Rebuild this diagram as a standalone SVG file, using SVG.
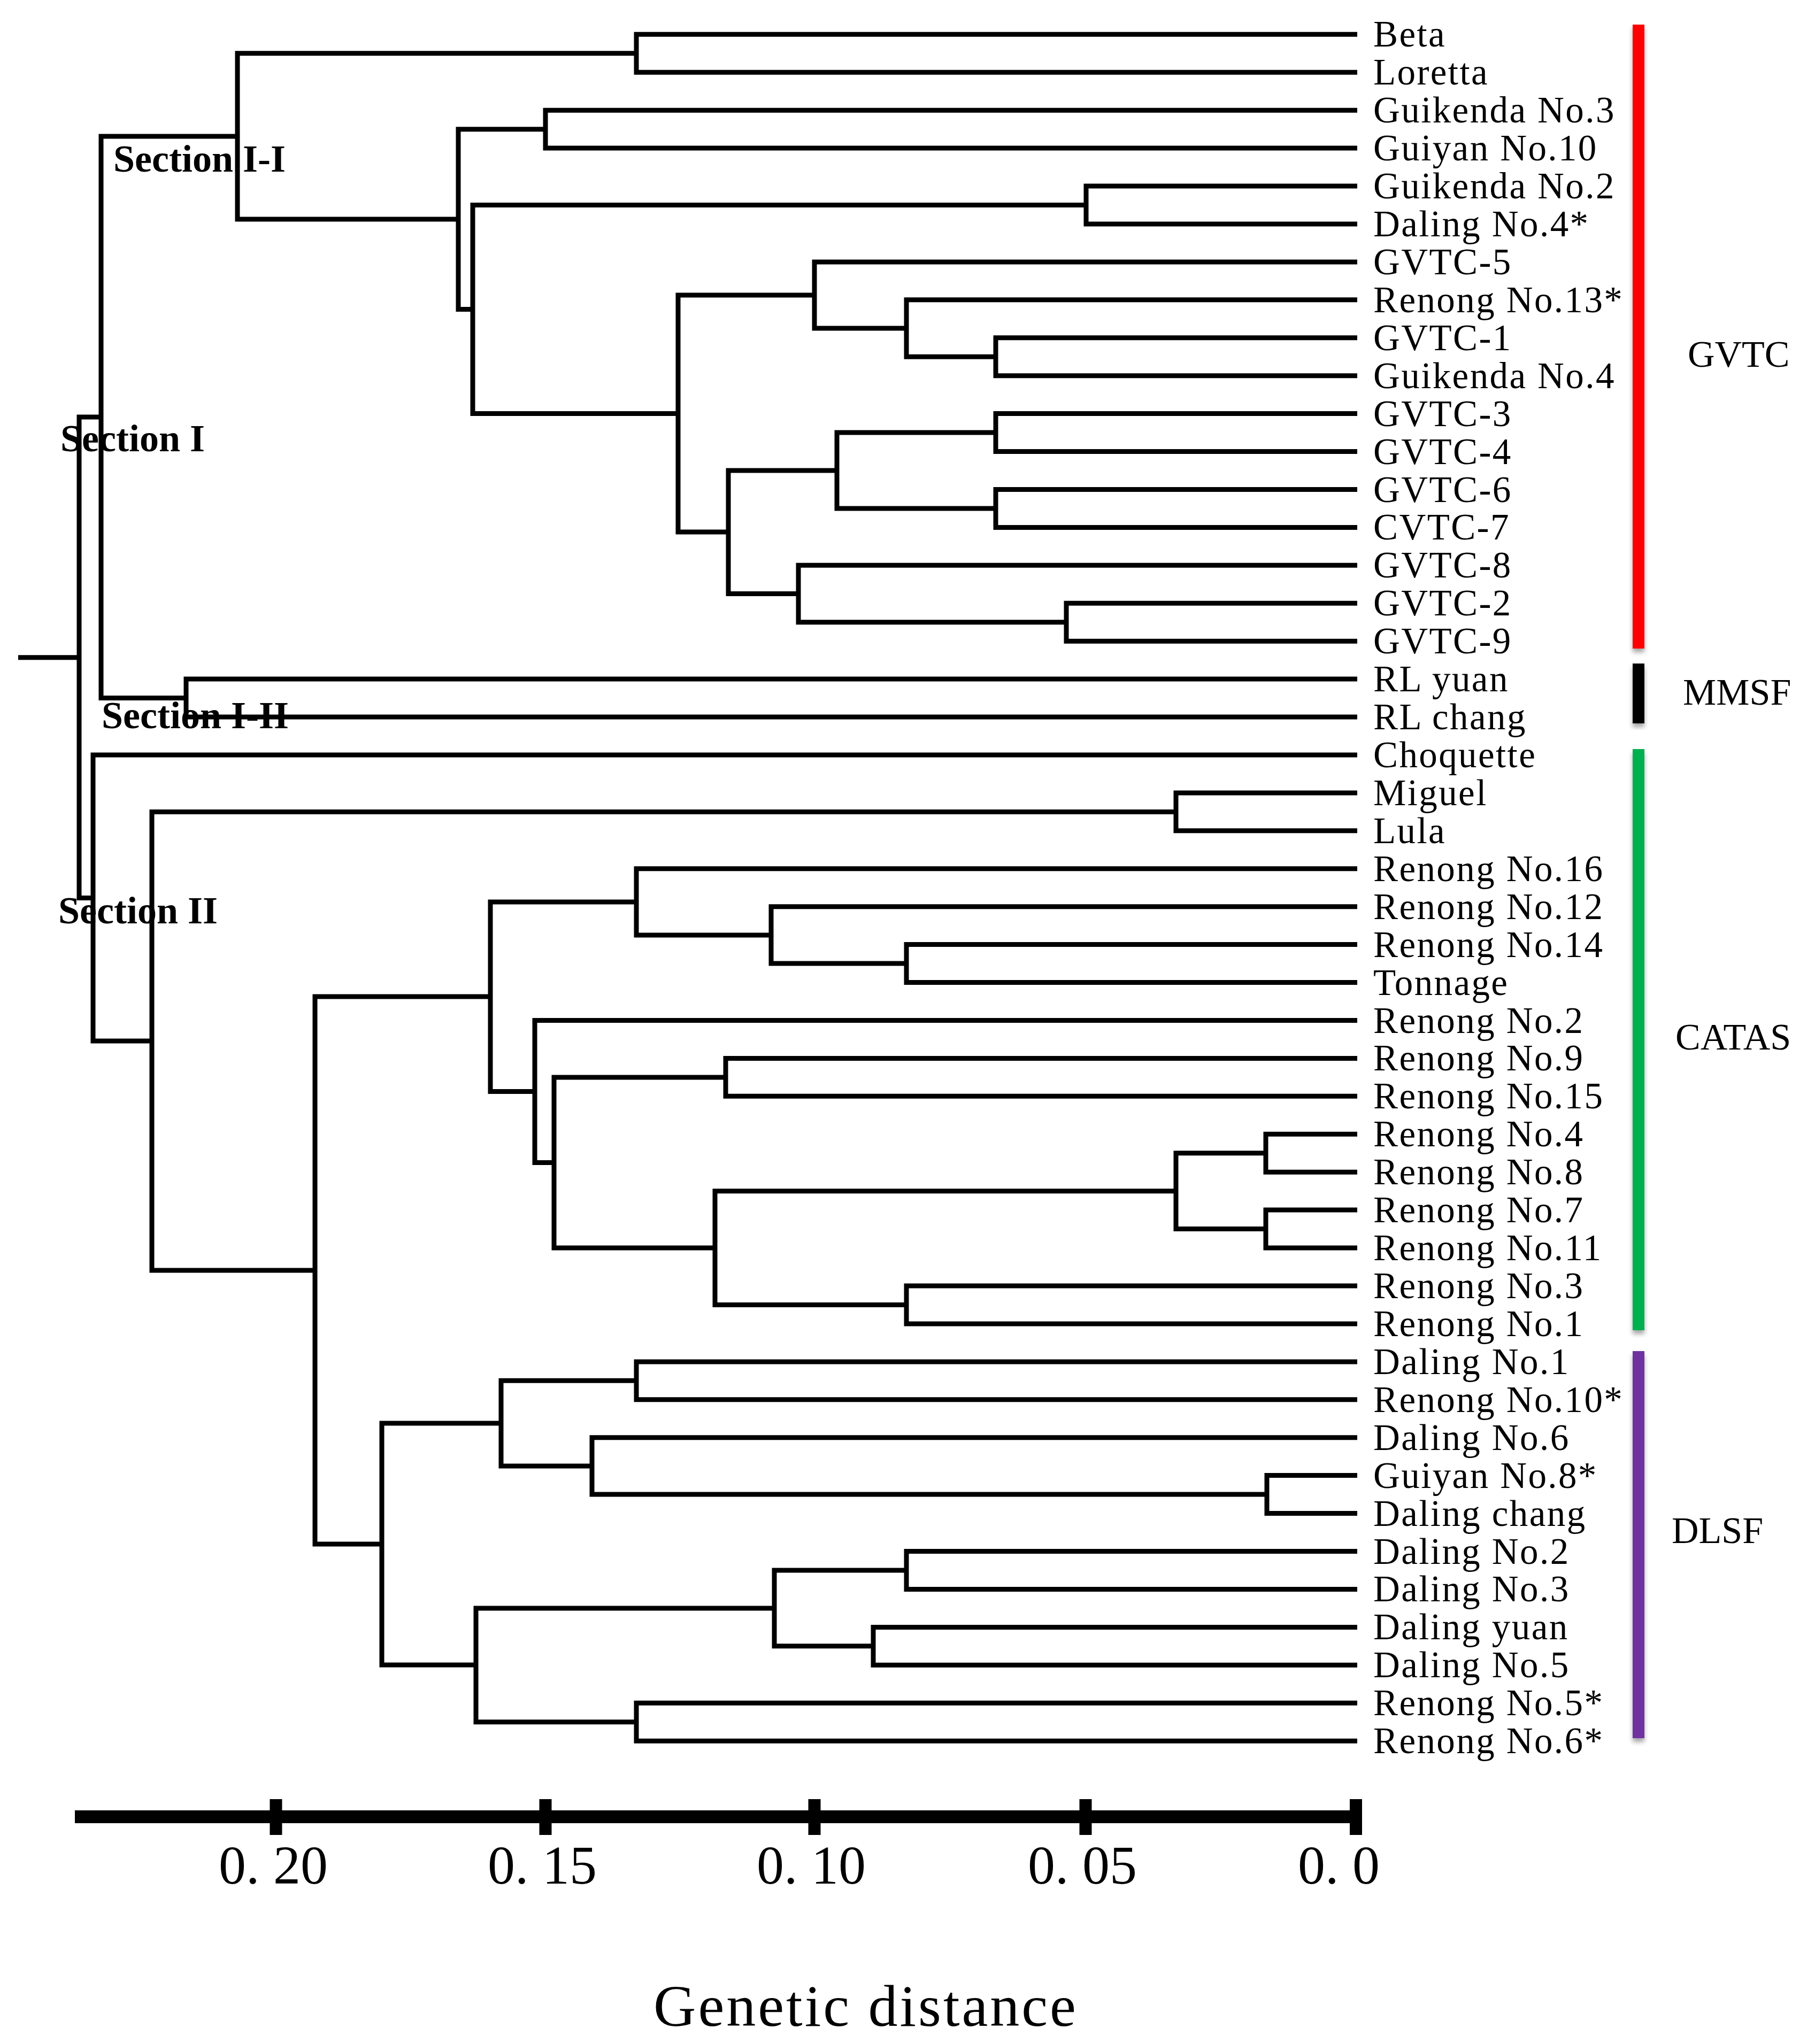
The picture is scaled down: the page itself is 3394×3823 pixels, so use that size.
<svg xmlns="http://www.w3.org/2000/svg" width="3394" height="3823" viewBox="0 0 3394 3823">
<defs>
<style>
.br{fill:none;stroke:#000;stroke-width:9;stroke-linejoin:miter;stroke-linecap:butt}
.lf{font-family:"Liberation Serif","Times New Roman",serif;font-size:69px;letter-spacing:2.4px;fill:#000}
.sec{font-family:"Liberation Serif","Times New Roman",serif;font-size:72px;font-weight:bold;fill:#000}
.grp{font-family:"Liberation Serif","Times New Roman",serif;font-size:70px;fill:#000}
.tk{font-family:"Liberation Serif","Times New Roman",serif;font-size:102px;fill:#000}
.ttl{font-family:"Liberation Serif","Times New Roman",serif;font-size:110px;letter-spacing:4px;fill:#000}
</style>
<filter id="sh" x="-50%" y="-10%" width="200%" height="120%">
<feDropShadow dx="0" dy="7" stdDeviation="4" flood-color="#000" flood-opacity="0.35"/>
</filter>
</defs>
<rect width="3394" height="3823" fill="#fff"/>

<g id="connectors">
<path class="br" d="M34 1229.7 H148"/>
<path class="br" d="M189 780 H148 V1679.5 H174"/>
<path class="br" d="M444 255 H189 V1305.6 H348"/>
<path class="br" d="M1190 99.8 H444 V410 H857"/>
<path class="br" d="M2538 64.3 H1190 V135.2 H2538"/>
<path class="br" d="M1020 241.7 H857 V578.5 H884"/>
<path class="br" d="M2538 206.2 H1020 V277.1 H2538"/>
<path class="br" d="M2031 383.5 H884 V773.5 H1268"/>
<path class="br" d="M2538 348 H2031 V418.9 H2538"/>
<path class="br" d="M1523 552 H1268 V995 H1362"/>
<path class="br" d="M2538 489.9 H1523 V614 H1695"/>
<path class="br" d="M2538 560.8 H1695 V667.2 H1862"/>
<path class="br" d="M2538 631.7 H1862 V702.7 H2538"/>
<path class="br" d="M1565 880 H1362 V1110.5 H1493"/>
<path class="br" d="M1862 809 H1565 V951 H1862"/>
<path class="br" d="M2538 773.6 H1862 V844.5 H2538"/>
<path class="br" d="M2538 915.5 H1862 V986.4 H2538"/>
<path class="br" d="M2538 1057.3 H1493 V1163.7 H1994"/>
<path class="br" d="M2538 1128.3 H1994 V1199.2 H2538"/>
<path class="br" d="M2538 1270.1 H348 V1341 H2538"/>
<path class="br" d="M2538 1412 H174 V1947 H284"/>
<path class="br" d="M2199 1518.4 H284 V2376 H589"/>
<path class="br" d="M2538 1482.9 H2199 V1553.8 H2538"/>
<path class="br" d="M917 1864 H589 V2888 H714"/>
<path class="br" d="M1190 1687 H917 V2041.5 H1000"/>
<path class="br" d="M2538 1624.8 H1190 V1749 H1442"/>
<path class="br" d="M2538 1695.7 H1442 V1802 H1695"/>
<path class="br" d="M2538 1766.6 H1695 V1837.6 H2538"/>
<path class="br" d="M2538 1908.5 H1000 V2174.5 H1036"/>
<path class="br" d="M1357 2015 H1036 V2334 H1337"/>
<path class="br" d="M2538 1979.4 H1357 V2050.3 H2538"/>
<path class="br" d="M2199 2227.7 H1337 V2440.5 H1695"/>
<path class="br" d="M2367 2156.7 H2199 V2298.6 H2367"/>
<path class="br" d="M2538 2121.3 H2367 V2192.2 H2538"/>
<path class="br" d="M2538 2263.1 H2367 V2334.1 H2538"/>
<path class="br" d="M2538 2405 H1695 V2475.9 H2538"/>
<path class="br" d="M937 2662 H714 V3114 H890"/>
<path class="br" d="M1190 2582.3 H937 V2742 H1107"/>
<path class="br" d="M2538 2546.9 H1190 V2617.8 H2538"/>
<path class="br" d="M2538 2688.7 H1107 V2795 H2369"/>
<path class="br" d="M2538 2759.6 H2369 V2830.6 H2538"/>
<path class="br" d="M1448 3008 H890 V3220.7 H1190"/>
<path class="br" d="M1695 2937 H1448 V3078.8 H1633"/>
<path class="br" d="M2538 2901.5 H1695 V2972.4 H2538"/>
<path class="br" d="M2538 3043.4 H1633 V3114.3 H2538"/>
<path class="br" d="M2538 3185.2 H1190 V3256.2 H2538"/>
</g>

<g id="sections">
<text class="sec" x="212" y="321">Section I-I</text>
<text class="sec" x="113" y="844">Section I</text>
<text class="sec" x="190" y="1362">Section I-II</text>
<text class="sec" x="109" y="1727">Section II</text>
</g>

<g id="leaves">
<g id="leaf-0"><text class="lf" x="2568" y="87">Beta</text></g>
<g id="leaf-1"><text class="lf" x="2568" y="158">Loretta</text></g>
<g id="leaf-2"><text class="lf" x="2568" y="229">Guikenda No.3</text></g>
<g id="leaf-3"><text class="lf" x="2568" y="300">Guiyan No.10</text></g>
<g id="leaf-4"><text class="lf" x="2568" y="371">Guikenda No.2</text></g>
<g id="leaf-5"><text class="lf" x="2568" y="442">Daling No.4*</text></g>
<g id="leaf-6"><text class="lf" x="2568" y="513">GVTC-5</text></g>
<g id="leaf-7"><text class="lf" x="2568" y="584">Renong No.13*</text></g>
<g id="leaf-8"><text class="lf" x="2568" y="655">GVTC-1</text></g>
<g id="leaf-9"><text class="lf" x="2568" y="726">Guikenda No.4</text></g>
<g id="leaf-10"><text class="lf" x="2568" y="797">GVTC-3</text></g>
<g id="leaf-11"><text class="lf" x="2568" y="868">GVTC-4</text></g>
<g id="leaf-12"><text class="lf" x="2568" y="939">GVTC-6</text></g>
<g id="leaf-13"><text class="lf" x="2568" y="1009">CVTC-7</text></g>
<g id="leaf-14"><text class="lf" x="2568" y="1080">GVTC-8</text></g>
<g id="leaf-15"><text class="lf" x="2568" y="1151">GVTC-2</text></g>
<g id="leaf-16"><text class="lf" x="2568" y="1222">GVTC-9</text></g>
<g id="leaf-17"><text class="lf" x="2568" y="1293">RL yuan</text></g>
<g id="leaf-18"><text class="lf" x="2568" y="1364">RL chang</text></g>
<g id="leaf-19"><text class="lf" x="2568" y="1435">Choquette</text></g>
<g id="leaf-20"><text class="lf" x="2568" y="1506">Miguel</text></g>
<g id="leaf-21"><text class="lf" x="2568" y="1577">Lula</text></g>
<g id="leaf-22"><text class="lf" x="2568" y="1648">Renong No.16</text></g>
<g id="leaf-23"><text class="lf" x="2568" y="1719">Renong No.12</text></g>
<g id="leaf-24"><text class="lf" x="2568" y="1790">Renong No.14</text></g>
<g id="leaf-25"><text class="lf" x="2568" y="1861">Tonnage</text></g>
<g id="leaf-26"><text class="lf" x="2568" y="1932">Renong No.2</text></g>
<g id="leaf-27"><text class="lf" x="2568" y="2002">Renong No.9</text></g>
<g id="leaf-28"><text class="lf" x="2568" y="2073">Renong No.15</text></g>
<g id="leaf-29"><text class="lf" x="2568" y="2144">Renong No.4</text></g>
<g id="leaf-30"><text class="lf" x="2568" y="2215">Renong No.8</text></g>
<g id="leaf-31"><text class="lf" x="2568" y="2286">Renong No.7</text></g>
<g id="leaf-32"><text class="lf" x="2568" y="2357">Renong No.11</text></g>
<g id="leaf-33"><text class="lf" x="2568" y="2428">Renong No.3</text></g>
<g id="leaf-34"><text class="lf" x="2568" y="2499">Renong No.1</text></g>
<g id="leaf-35"><text class="lf" x="2568" y="2570">Daling No.1</text></g>
<g id="leaf-36"><text class="lf" x="2568" y="2641">Renong No.10*</text></g>
<g id="leaf-37"><text class="lf" x="2568" y="2712">Daling No.6</text></g>
<g id="leaf-38"><text class="lf" x="2568" y="2783">Guiyan No.8*</text></g>
<g id="leaf-39"><text class="lf" x="2568" y="2854">Daling chang</text></g>
<g id="leaf-40"><text class="lf" x="2568" y="2925">Daling No.2</text></g>
<g id="leaf-41"><text class="lf" x="2568" y="2995">Daling No.3</text></g>
<g id="leaf-42"><text class="lf" x="2568" y="3066">Daling yuan</text></g>
<g id="leaf-43"><text class="lf" x="2568" y="3137">Daling No.5</text></g>
<g id="leaf-44"><text class="lf" x="2568" y="3208">Renong No.5*</text></g>
<g id="leaf-45"><text class="lf" x="2568" y="3279">Renong No.6*</text></g>
</g>

<g id="groups">
<g id="grp-GVTC"><rect x="3053" y="46" width="22" height="1167" fill="#ff0000" filter="url(#sh)"/><text class="grp" x="3156" y="686">GVTC</text></g>
<g id="grp-MMSF"><rect x="3053" y="1241" width="22" height="112" fill="#000" filter="url(#sh)"/><text class="grp" x="3147" y="1318">MMSF</text></g>
<g id="grp-CATAS"><rect x="3053" y="1401" width="22" height="1087" fill="#00b050" filter="url(#sh)"/><text class="grp" x="3133" y="1963">CATAS</text></g>
<g id="grp-DLSF"><rect x="3053" y="2527" width="22" height="724" fill="#7030a0" filter="url(#sh)"/><text class="grp" x="3126" y="2886">DLSF</text></g>
</g>

<g id="axis">
<rect x="140" y="3386" width="2407" height="24" fill="#000"/>
<rect x="504.5" y="3365" width="23" height="67" fill="#000"/>
<rect x="1008.5" y="3365" width="23" height="67" fill="#000"/>
<rect x="1511.5" y="3365" width="23" height="67" fill="#000"/>
<rect x="2018.5" y="3365" width="23" height="67" fill="#000"/>
<rect x="2524" y="3365" width="23" height="67" fill="#000"/>
<text class="tk" x="409" y="3523">0. 20</text>
<text class="tk" x="912" y="3523">0. 15</text>
<text class="tk" x="1415" y="3523">0. 10</text>
<text class="tk" x="1922" y="3523">0. 05</text>
<text class="tk" x="2427" y="3523">0. 0</text>
<text class="ttl" x="1222" y="3789">Genetic distance</text>
</g>
</svg>
